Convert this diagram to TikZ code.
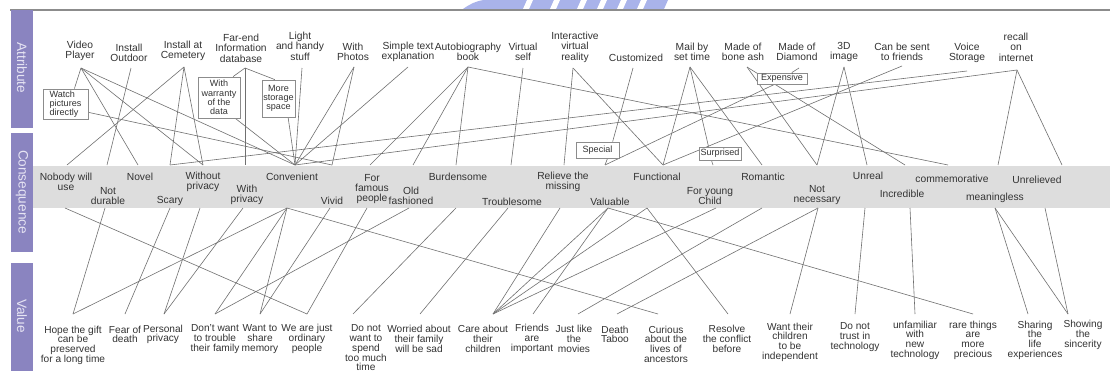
\documentclass[tikz,border=0pt]{standalone}
\usepackage{fontspec}
\setmainfont{Liberation Sans}
\definecolor{barfill}{HTML}{8A84C0}
\definecolor{bartext}{HTML}{E6E4F3}
\definecolor{bandfill}{HTML}{DDDDDD}
\definecolor{linkcol}{HTML}{707070}
\definecolor{labelcol}{HTML}{333333}
\definecolor{framecol}{HTML}{8C8C8C}
\definecolor{markblue}{HTML}{A9B3EA}
\pgfdeclarelayer{back}
\pgfdeclarelayer{links}
\pgfsetlayers{back,links,main}
\begin{document}
\begin{tikzpicture}[x=0.75pt,y=-0.75pt,
  lbl/.style={font=\fontsize{7.7}{7.8}\selectfont,text=labelcol,align=center,inner sep=0pt},
  vlbl/.style={font=\fontsize{7.6}{7.3}\selectfont,text=labelcol,align=center,inner sep=0pt},
  tag/.style={draw=framecol,fill=white,line width=0.6pt,font=\fontsize{6.8}{6.9}\selectfont,text=labelcol,align=center,inner sep=0pt},
  link/.style={draw=linkcol,line width=0.45pt},
  sidetext/.style={rotate=-90,text=bartext,font=\fontsize{10.2}{10}\selectfont}]
\useasboundingbox (0,0) rectangle (1110,371);

\begin{pgfonlayer}{back}
  \fill[white] (0,0) rectangle (1110,371);
  % header emblem strip
  \fill[markblue] (463,9) .. controls (470,4) and (476,1) .. (484,0) -- (668,0) -- (664,9) -- cycle;
  \foreach \g in {523,550,577,597,617,637}{
    \fill[white] (\g,9) -- (\g+4,0) -- (\g+10,0) -- (\g+6,9) -- cycle;
  }
  \draw[framecol,line width=0.8pt] (10,10) -- (1110,10);
  \fill[barfill] (11,10) rectangle (33,128);
  \fill[barfill] (11,133) rectangle (33,252);
  \fill[barfill] (11,263) rectangle (33,371);
  \fill[bandfill] (33,166) rectangle (1110,208);
\end{pgfonlayer}

\node[sidetext] (sAttr) at (22,68) {Attribute};
\node[sidetext] (sCons) at (22,192) {Consequence};
\node[sidetext] (sVal) at (22,316) {Value};

% ---------- attributes ----------
\node[lbl] (vp)  at (80,51)   {Video\\Player};
\node[lbl] (io)  at (129,53)  {Install\\Outdoor};
\node[lbl] (ic)  at (183,51)  {Install at\\Cemetery};
\node[lbl] (fe)  at (241,48)  {Far-end\\Information\\database};
\node[lbl] (lh)  at (300,46)  {Light\\and handy\\stuff};
\node[lbl] (wp)  at (353,52)  {With\\Photos};
\node[lbl] (st)  at (408,52)  {Simple text\\explanation};
\node[lbl] (ab)  at (468,52)  {Autobiography\\book};
\node[lbl] (vs)  at (523,52)  {Virtual\\self};
\node[lbl] (ivr) at (575,47)  {Interactive\\virtual\\reality};
\node[lbl] (cu)  at (636,58)  {Customized};
\node[lbl] (mail) at (692,52) {Mail by\\set time};
\node[lbl] (ba)  at (743,52)  {Made of\\bone ash};
\node[lbl] (di)  at (797,52)  {Made of\\Diamond};
\node[lbl] (d3)  at (844,52)  {3D\\image};
\node[lbl] (cs)  at (902,52)  {Can be sent\\to friends};
\node[lbl] (voice) at (967,53) {Voice\\Storage};
\node[lbl] (ri)  at (1016,47) {recall\\on\\internet};

\coordinate (vp-b) at (81,68);
\coordinate (io-b) at (131,68);
\coordinate (ic-b) at (184,67);
\coordinate (fe-b) at (245,68);
\coordinate (lh-b) at (302,68);
\coordinate (wp-b) at (354,67);
\coordinate (st-b) at (408,67);
\coordinate (ab-b) at (468,67);
\coordinate (vs-b) at (523,68);
\coordinate (ivr-b) at (573,68);
\coordinate (cu-b) at (633,68);
\coordinate (mail-b) at (690,67);
\coordinate (ba-b) at (747,67);
\coordinate (di-b) at (799,68);
\coordinate (d3-b) at (844,67);
\coordinate (cs-b) at (902,66);
\coordinate (voice-b) at (967,71);
\coordinate (ri-b) at (1017,70);

% ---------- tags on links ----------
\node[tag,align=left,minimum width=33.75pt,minimum height=22.5pt] (watch) at (65.5,104) {Watch\\pictures\\directly};
\node[tag,minimum width=31.5pt,minimum height=30.75pt] (warr) at (219,97.5) {With\\warranty\\of the\\data};
\node[tag,minimum width=24.75pt,minimum height=27.75pt] (stor) at (278.5,98.5) {More\\storage\\space};
\node[tag,minimum width=37.5pt,minimum height=8.25pt] (exp) at (782,78.5) {Expensive};
\node[tag,minimum width=32.25pt,minimum height=12pt] (spec) at (597.5,150) {Special};
\node[tag,minimum width=31.5pt,minimum height=9.75pt] (surp) at (720,153.5) {Surprised};

% ---------- consequences ----------
\node[lbl] (nob) at (66,182)  {Nobody will\\use};
\node[lbl] (nd)  at (108,196) {Not\\durable};
\node[lbl] (nov) at (140,177) {Novel};
\node[lbl] (sca) at (170,201) {Scary};
\node[lbl] (wop) at (203,182) {Without\\privacy};
\node[lbl] (wip) at (247,195) {With\\privacy};
\node[lbl] (con) at (292,177) {Convenient};
\node[lbl] (viv) at (332,201) {Vivid};
\node[lbl] (ffp) at (372,189) {For\\famous\\people};
\node[lbl] (old) at (411,196) {Old\\fashioned};
\node[lbl] (bur) at (458,177) {Burdensome};
\node[lbl] (tro) at (512,202) {Troublesome};
\node[lbl] (rel) at (563,182) {Relieve the\\missing};
\node[lbl] (val) at (610,202) {Valuable};
\node[lbl] (fun) at (657,177) {Functional};
\node[lbl] (fyc) at (710,196) {For young\\Child};
\node[lbl] (rom) at (763,177) {Romantic};
\node[lbl] (nn)  at (817,195) {Not\\necessary};
\node[lbl] (unr) at (868,176) {Unreal};
\node[lbl] (inc) at (902,194) {Incredible};
\node[lbl] (com) at (952,179) {commemorative};
\node[lbl] (mea) at (995,198) {meaningless};
\node[lbl] (unl) at (1037,180) {Unrelieved};

\foreach \n/\t/\b in {nob/67/65, nd/107/105, nov/138/138, sca/170/170, wop/203/200,
  wip/245/243, con/295/287, viv/332/330, ffp/370/367, old/413/409, bur/456/456,
  tro/511/508, rel/564/560, val/605/608, fun/663/647, fyc/713/716, rom/762/762,
  nn/817/818, unr/867/865, inc/905/910, com/948/948, mea/998/995, unl/1062/1045}{
  \coordinate (\n-t) at (\t,165);
  \coordinate (\n-b) at (\b,208);
}

% ---------- values ----------
\node[vlbl] (hope)  at (73,345)  {Hope the gift\\can be\\preserved\\for a long time};
\node[vlbl] (fear)  at (125,334.5) {Fear of\\death};
\node[vlbl] (pers)  at (163,334.5) {Personal\\privacy};
\node[vlbl] (dont)  at (215,339) {Don't want\\to trouble\\their family};
\node[vlbl] (share) at (260,339) {Want to\\share\\memory};
\node[vlbl] (ordi)  at (307,339) {We are just\\ordinary\\people};
\node[vlbl] (spend) at (366,348) {Do not\\want to\\spend\\too much\\time};
\node[vlbl] (worr)  at (419,339) {Worried about\\their family\\will be sad};
\node[vlbl] (care)  at (483,339) {Care about\\their\\children};
\node[vlbl] (frie)  at (532,339) {Friends\\are\\important};
\node[vlbl] (movi)  at (574,339) {Just like\\the\\movies};
\node[vlbl] (tabo)  at (615,334.5) {Death\\Taboo};
\node[vlbl] (curi)  at (666,344) {Curious\\about the\\lives of\\ancestors};
\node[vlbl] (reso)  at (727,339) {Resolve\\the conflict\\before};
\node[vlbl] (inde)  at (790,342) {Want their\\children\\to be\\independent};
\node[vlbl] (trus)  at (855,337) {Do not\\trust in\\technology};
\node[vlbl] (unfa)  at (915,340) {unfamiliar\\with\\new\\technology};
\node[vlbl] (rare)  at (973,340) {rare things\\are\\more\\precious};
\node[vlbl] (shar)  at (1035,340) {Sharing\\the\\life\\experiences};
\node[vlbl] (sinc)  at (1083,335) {Showing\\the\\sincerity};

\foreach \n/\x in {hope/73, fear/125, pers/164, dont/215, share/260, ordi/307, spend/353,
  worr/420, care/493, frie/533, movi/578, tabo/617, curi/658, reso/728, inde/790,
  trus/855, unfa/915, rare/973, shar/1028, sinc/1068}{
  \coordinate (\n-t) at (\x,314);
}

% ---------- links ----------
\begin{pgfonlayer}{links}
  % attribute -> consequence
  \draw[link] (vp-b) -- (watch.60);
  \draw[link] (vp-b) -- (nov-t);
  \draw[link] (vp-b) -- (wop-t);
  \draw[link] (vp-b) -- (con-t);
  \draw[link] (watch.-20) -- (viv-t);
  \draw[link] (io-b) -- (nd-t);
  \draw[link] (ic-b) -- (nob-t);
  \draw[link] (ic-b) -- (sca-t);
  \draw[link] (ic-b) -- (wop-t);
  \draw[link] (fe-b) -- (warr.56);
  \draw[link] (fe-b) -- (stor.101);
  \draw[link] (fe-b) -- (wip-t);
  \draw[link] (warr.-52) -- (con-t);
  \draw[link] (stor.-63) -- (con-t);
  \draw[link] (lh-b) -- (con-t);
  \draw[link] (wp-b) -- (con-t);
  \draw[link] (wp-b) -- (viv-t);
  \draw[link] (st-b) -- (con-t);
  \draw[link] (ab-b) -- (ffp-t);
  \draw[link] (ab-b) -- (old-t);
  \draw[link] (ab-b) -- (bur-t);
  \draw[link] (ab-b) -- (com-t);
  \draw[link] (vs-b) -- (tro-t);
  \draw[link] (ivr-b) -- (rel-t);
  \draw[link] (ivr-b) -- (fun-t);
  \draw[link] (cu-b) -- (spec.29);
  \draw[link] (spec.-40) -- (val-t);
  \draw[link] (mail-b) -- (fun-t);
  \draw[link] (mail-b) -- (surp.149);
  \draw[link] (surp.-141) -- (fyc-t);
  \draw[link] (mail-b) -- (rom-t);
  \draw[link] (ba-b) -- (nn-t);
  \draw[link] (ba-b) -- (inc-t);
  \draw[link] (di-b) -- (exp.31);
  \draw[link] (exp.-142) -- (val-t);
  \draw[link] (d3-b) -- (nn-t);
  \draw[link] (d3-b) -- (unr-t);
  \draw[link] (cs-b) -- (fun-t);
  \draw[link] (voice-b) -- (sca-t);
  \draw[link] (ri-b) -- (con-t);
  \draw[link] (ri-b) -- (mea-t);
  \draw[link] (ri-b) -- (unl-t);
  % consequence -> value
  \draw[link] (nob-b) -- (ordi-t);
  \draw[link] (nd-b) -- (hope-t);
  \draw[link] (sca-b) -- (fear-t);
  \draw[link] (wop-b) -- (pers-t);
  \draw[link] (wip-b) -- (pers-t);
  \draw[link] (con-b) -- (hope-t);
  \draw[link] (con-b) -- (dont-t);
  \draw[link] (con-b) -- (share-t);
  \draw[link] (con-b) -- (curi-t);
  \draw[link] (viv-b) -- (share-t);
  \draw[link] (ffp-b) -- (ordi-t);
  \draw[link] (old-b) -- (dont-t);
  \draw[link] (bur-b) -- (spend-t);
  \draw[link] (tro-b) -- (worr-t);
  \draw[link] (rel-b) -- (care-t);
  \draw[link] (val-b) -- (care-t);
  \draw[link] (val-b) -- (frie-t);
  \draw[link] (val-b) -- (rare-t);
  \draw[link] (fun-b) -- (care-t);
  \draw[link] (fun-b) -- (reso-t);
  \draw[link] (fyc-b) -- (care-t);
  \draw[link] (rom-b) -- (movi-t);
  \draw[link] (nn-b) -- (tabo-t);
  \draw[link] (nn-b) -- (inde-t);
  \draw[link] (unr-b) -- (trus-t);
  \draw[link] (inc-b) -- (unfa-t);
  \draw[link] (mea-b) -- (shar-t);
  \draw[link] (mea-b) -- (sinc-t);
  \draw[link] (unl-b) -- (sinc-t);
\end{pgfonlayer}
\end{tikzpicture}
\end{document}
